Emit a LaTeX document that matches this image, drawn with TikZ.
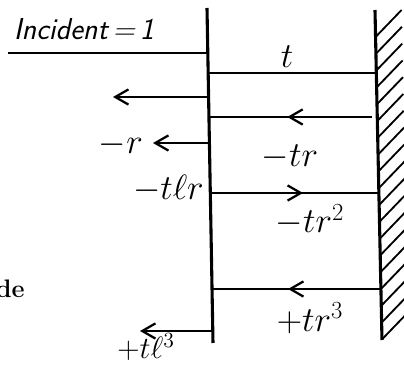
\documentclass[tikz,border=0pt]{standalone}
\usepackage{fix-cm}
\usepackage{amsmath}
\usepackage{fontspec}
\usetikzlibrary{arrows.meta,decorations.markings}

\tikzset{
  barb/.tip={Straight Barb[length=3.3mm,width=3.8mm,line width=1.6pt]},
  ray/.style={line width=1.8pt},
  plate/.style={line width=2.2pt},
  hatch/.style={line width=1.3pt},
  lab/.style={font=\fontsize{25}{27}\selectfont,inner sep=0pt},
  midarrow/.style={ray,decoration={markings,
      mark=at position #1 with {\arrow{barb}}},postaction={decorate}},
}

\begin{document}
\begin{tikzpicture}[x=0.025cm,y=-0.025cm]
  \useasboundingbox (0,0) rectangle (404,366);
  % interface and mirror
  \coordinate (ltop) at (207,8);
  \coordinate (lbot) at (213,343);
  \coordinate (wtop) at (375,10);
  \coordinate (wbot) at (382,340);
  \draw[plate] (ltop) -- (lbot);
  \draw[plate] (wtop) -- (wbot);
  \foreach \k in {0,...,18}{
    \pgfmathsetmacro\hy{37+16.8*\k}
    \pgfmathsetmacro\hx{375+7*(\hy-10)/330}
    \draw[hatch] (\hx,\hy) -- ++(26,-27);
  }

  \node[font=\fontsize{21.5}{23}\selectfont\sffamily\itshape,inner sep=0pt]
    (inc) at (84,29) {Incident\,=\,1};
  \node[lab] (lt) at (287,57) {$t$};
  \node[lab,anchor=east] (lr) at (143,145) {$-r$};
  \node[lab] (ltr) at (290,157) {$-tr$};
  \node[lab,anchor=east] (ltlr) at (204,189) {$-t\ell r$};
  \node[lab] (ltr2) at (310,220) {$-tr^{2}$};
  \node[lab] (ltr3) at (310,318) {$+tr^{3}$};
  \node[lab,font=\fontsize{22}{24}\selectfont,anchor=base]
    (ltl3) at (146,359) {$+t\ell^{3}$};
  \node[font=\fontsize{18}{20}\selectfont\bfseries,inner sep=0pt,
    anchor=base east] (de) at (25,298) {de};

  \coordinate (i0) at (8,53);    \coordinate (i1) at (207.8,53);
  \coordinate (t0) at (208.2,73); \coordinate (t1) at (376.3,73);
  \coordinate (a0) at (208.6,97); \coordinate (a1) at (113,97);
  \coordinate (b0) at (372,117);  \coordinate (b1) at (209,117);
  \coordinate (c0) at (209.4,143); \coordinate (c1) at (153,143);
  \coordinate (d0) at (210.3,193); \coordinate (d1) at (378.9,193);
  \coordinate (e0) at (380.9,289); \coordinate (e1) at (212,289);
  \coordinate (f0) at (212.8,331); \coordinate (f1) at (140,331);

  \draw[ray] (i0) -- (i1);
  \draw[ray] (t0) -- (t1);
  \draw[ray,-barb] (a0) -- (a1);
  \draw[midarrow=0.52] (b0) -- (b1);
  \draw[ray,-barb] (c0) -- (c1);
  \draw[midarrow=0.55] (d0) -- (d1);
  \draw[midarrow=0.55] (e0) -- (e1);
  \draw[ray,-barb] (f0) -- (f1);
\end{tikzpicture}
\end{document}
